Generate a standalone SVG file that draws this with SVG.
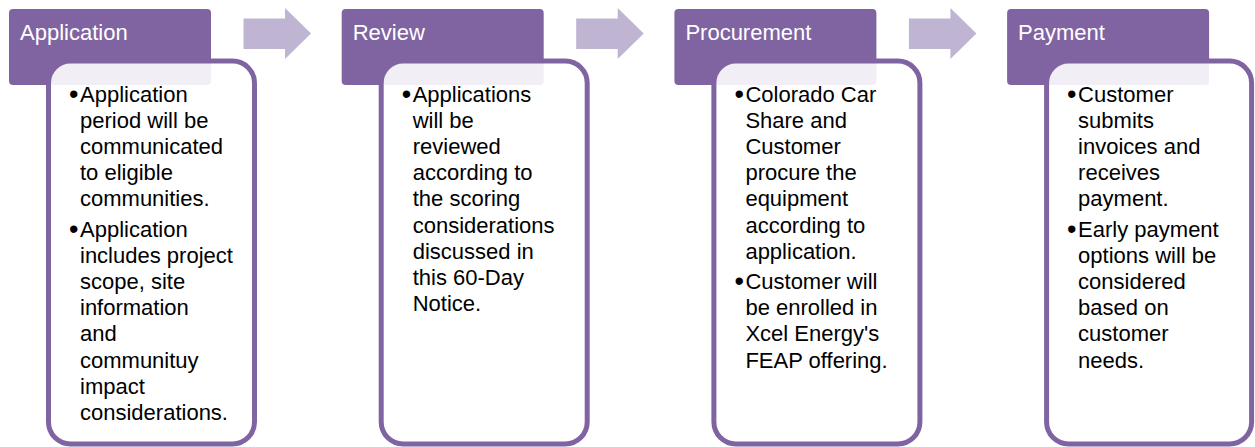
<svg xmlns="http://www.w3.org/2000/svg" width="1255" height="447" viewBox="0 0 1255 447">
<style>
.hdr{fill:#8064a2}
.body{fill:#ffffff;fill-opacity:0.89;stroke:#8064a2;stroke-width:5}
.arrow{fill:#bfb5d2}
.title{font-family:"Liberation Sans",Arial,sans-serif;font-size:22px;fill:#ffffff}
.txt{font-family:"Liberation Sans",Arial,sans-serif;font-size:22px;fill:#000000}
.bul{font-family:"Liberation Sans",Arial,sans-serif;font-size:27px;fill:#000000}
</style>
<rect width="1255" height="447" fill="#ffffff"/>
<g id="connectors">
<path class="arrow" d="M243.5,18.5 H285 V8 L311,33.5 L285,59 V49 H243.5 Z"/>
<path class="arrow" transform="translate(332.7,0)" d="M243.5,18.5 H285 V8 L311,33.5 L285,59 V49 H243.5 Z"/>
<path class="arrow" transform="translate(665.4,0)" d="M243.5,18.5 H285 V8 L311,33.5 L285,59 V49 H243.5 Z"/>
</g>
<g id="node-application">
<rect class="hdr" x="9" y="9" width="202" height="76" rx="4"/>
<text class="title" x="20" y="40">Application</text>
<rect class="body" x="48.5" y="61" width="206" height="383" rx="22"/>
<text class="bul" x="69" y="102.5">•</text>
<text class="bul" x="69" y="237.5">•</text>
<text class="txt">
<tspan x="80" y="101.5">Application</tspan>
<tspan x="80" y="127.7">period will be</tspan>
<tspan x="80" y="153.9">communicated</tspan>
<tspan x="80" y="180.1">to eligible</tspan>
<tspan x="80" y="206.3">communities.</tspan>
<tspan x="80" y="236.5">Application</tspan>
<tspan x="80" y="262.7">includes project</tspan>
<tspan x="80" y="288.9">scope, site</tspan>
<tspan x="80" y="315.1">information</tspan>
<tspan x="80" y="341.3">and</tspan>
<tspan x="80" y="367.5">communituy</tspan>
<tspan x="80" y="393.7">impact</tspan>
<tspan x="80" y="419.9">considerations.</tspan>
</text>
</g>
<g id="node-review" transform="translate(332.7,0)">
<rect class="hdr" x="9" y="9" width="202" height="76" rx="4"/>
<text class="title" x="20" y="40">Review</text>
<rect class="body" x="48.5" y="61" width="206" height="383" rx="22"/>
<text class="bul" x="69" y="102.5">•</text>
<text class="txt">
<tspan x="80" y="101.5">Applications</tspan>
<tspan x="80" y="127.7">will be</tspan>
<tspan x="80" y="153.9">reviewed</tspan>
<tspan x="80" y="180.1">according to</tspan>
<tspan x="80" y="206.3">the scoring</tspan>
<tspan x="80" y="232.5">considerations</tspan>
<tspan x="80" y="258.7">discussed in</tspan>
<tspan x="80" y="284.9">this 60-Day</tspan>
<tspan x="80" y="311.1">Notice.</tspan>
</text>
</g>
<g id="node-procurement" transform="translate(665.4,0)">
<rect class="hdr" x="9" y="9" width="202" height="76" rx="4"/>
<text class="title" x="20" y="40">Procurement</text>
<rect class="body" x="48.5" y="61" width="206" height="383" rx="22"/>
<text class="bul" x="69" y="102.5">•</text>
<text class="bul" x="69" y="289.9">•</text>
<text class="txt">
<tspan x="80" y="101.5">Colorado Car</tspan>
<tspan x="80" y="127.7">Share and</tspan>
<tspan x="80" y="153.9">Customer</tspan>
<tspan x="80" y="180.1">procure the</tspan>
<tspan x="80" y="206.3">equipment</tspan>
<tspan x="80" y="232.5">according to</tspan>
<tspan x="80" y="258.7">application.</tspan>
<tspan x="80" y="288.9">Customer will</tspan>
<tspan x="80" y="315.1">be enrolled in</tspan>
<tspan x="80" y="341.3">Xcel Energy's</tspan>
<tspan x="80" y="367.5">FEAP offering.</tspan>
</text>
</g>
<g id="node-payment" transform="translate(998.1,0)">
<rect class="hdr" x="9" y="9" width="202" height="76" rx="4"/>
<text class="title" x="20" y="40">Payment</text>
<rect class="body" x="48.5" y="61" width="205" height="383" rx="22"/>
<text class="bul" x="69" y="102.5">•</text>
<text class="bul" x="69" y="237.5">•</text>
<text class="txt">
<tspan x="80" y="101.5">Customer</tspan>
<tspan x="80" y="127.7">submits</tspan>
<tspan x="80" y="153.9">invoices and</tspan>
<tspan x="80" y="180.1">receives</tspan>
<tspan x="80" y="206.3">payment.</tspan>
<tspan x="80" y="236.5">Early payment</tspan>
<tspan x="80" y="262.7">options will be</tspan>
<tspan x="80" y="288.9">considered</tspan>
<tspan x="80" y="315.1">based on</tspan>
<tspan x="80" y="341.3">customer</tspan>
<tspan x="80" y="367.5">needs.</tspan>
</text>
</g>
</svg>
